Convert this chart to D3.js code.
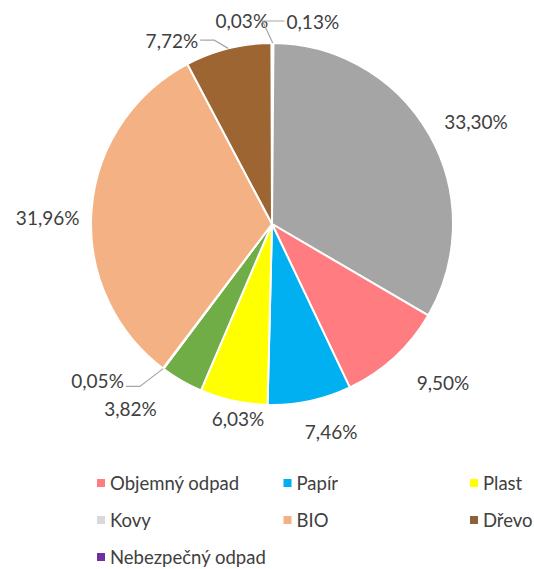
<!DOCTYPE html>
<html>
<head>
<meta charset="utf-8">
<script src="https://cdn.jsdelivr.net/npm/d3@7"></script>
<style>
  body { margin: 0; background: #fff; }
  text { font-family: Lato, "Open Sans", sans-serif; fill: #404040; }
</style>
</head>
<body>
<div id="chart"></div>
<script>

// slices, clockwise from 12 o'clock
const categories = ['Nebezpečný odpad', 'Kovy', 'Objemný odpad', 'Papír', 'Plast', 'Sklo', 'Textil', 'BIO', 'Dřevo', 'Elektro']
const shares = [0.13, 33.30, 9.50, 7.46, 6.03, 3.82, 0.05, 31.96, 7.72, 0.03]
const sliceColors = ['#7030a0', '#a5a5a5', '#ff7c80', '#00b0f0', '#ffff00', '#70ad47', '#4472c4', '#f4b183', '#9c6531', '#c00000']

// legend entries as shown
const legendNames = ['Objemný odpad', 'Papír', 'Plast', 'Kovy', 'BIO', 'Dřevo', 'Nebezpečný odpad']
const legendColors = ['#ff7c80', '#00b0f0', '#ffff00', '#d9d9d9', '#f4b183', '#8c6239', '#7030a0']

const width = 534, height = 569
const cx = 272, cy = 224, radius = 181

const svg = d3.select('#chart').append('svg')
    .attr('width', width)
    .attr('height', height)

const data = categories.map((c, i) => ({name: c, value: shares[i], color: sliceColors[i]}))

const pie = d3.pie().sort(null).value(d => d.value)
const arcs = pie(data)

const arc = d3.arc().innerRadius(0).outerRadius(radius)
const labelArc = d3.arc().innerRadius(radius + 26).outerRadius(radius + 26)
const edgeArc = d3.arc().innerRadius(radius).outerRadius(radius)

const g = svg.append('g').attr('transform', `translate(${cx},${cy})`)

g.selectAll('path.slice')
    .data(arcs)
    .enter()
    .append('path')
    .attr('class', 'slice')
    .attr('d', arc)
    .attr('fill', d => d.data.color)
    .attr('stroke', '#fff')
    .attr('stroke-width', 2)

// best-fit style nudges for the labels (Excel moves them around)
const nudge = {
    'Nebezpečný odpad': [40, 4],
    'Kovy': [24, 0],
    'Objemný odpad': [31, 6],
    'Papír': [16, 5],
    'Plast': [10, -8],
    'Sklo': [-38, 5],
    'Textil': [-50, -9],
    'BIO': [-18, 10],
    'Dřevo': [-50, 17],
    'Elektro': [-30, 3]
}
const withLeader = ['Nebezpečný odpad', 'Textil', 'Dřevo']

const fmt = v => v.toFixed(2).replace('.', ',') + '%'

const labels = g.selectAll('text.lbl')
    .data(arcs)
    .enter()
    .append('text')
    .attr('class', 'lbl')
    .attr('text-anchor', 'middle')
    .attr('dominant-baseline', 'central')
    .style('font-size', '19px')
    .attr('x', d => labelArc.centroid(d)[0] + nudge[d.data.name][0])
    .attr('y', d => labelArc.centroid(d)[1] + nudge[d.data.name][1])
    .text(d => fmt(d.data.value))

// leader lines
labels.each(function(d) {
    if (!withLeader.includes(d.data.name)) return
    const box = this.getBBox()
    const p = edgeArc.centroid(d)
    const lx = +this.getAttribute('x'), ly = +this.getAttribute('y')
    const right = lx > p[0]
    const endX = right ? box.x - 2 : box.x + box.width + 2
    const endY = d.data.name === 'Textil' ? ly + 6 : ly
    const elbowX = right ? endX - 22 : endX + 14
    g.append('polyline')
        .attr('points', [p, [elbowX, endY], [endX, endY]].map(q => q.join(',')).join(' '))
        .attr('fill', 'none')
        .attr('stroke', '#a6a6a6')
        .attr('stroke-width', 1.2)
})

// legend
const legX = 97, legY = 483, colW = 186.5, rowH = 37
const leg = svg.append('g')
    .selectAll('g')
    .data(legendNames)
    .enter()
    .append('g')
    .attr('transform', (d, i) => `translate(${legX + (i % 3) * colW},${legY + Math.floor(i / 3) * rowH})`)

leg.append('rect')
    .attr('x', 0)
    .attr('y', -4)
    .attr('width', 8)
    .attr('height', 8)
    .attr('fill', (d, i) => legendColors[i])

leg.append('text')
    .attr('x', 13)
    .attr('y', 0)
    .attr('dominant-baseline', 'central')
    .style('font-size', '18.5px')
    .text(d => d)
</script>
</body>
</html>
